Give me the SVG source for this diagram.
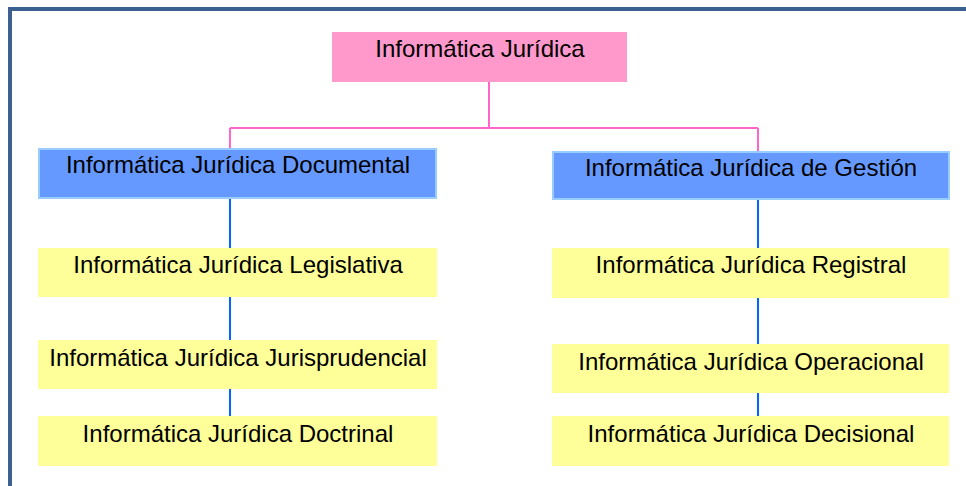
<svg xmlns="http://www.w3.org/2000/svg" width="966" height="486" viewBox="0 0 966 486">
<style>
text{font-family:"Liberation Sans",Arial,sans-serif;font-size:24px;fill:#000;text-anchor:middle}
.y{fill:#FFFF99}
.b{fill:#6699FF;stroke:#99CCFF;stroke-width:2}
.pk{stroke:#FF66CC;stroke-width:2;fill:none}
.bl{stroke:#0066FF;stroke-width:2;fill:none}
</style>
<rect x="0" y="0" width="966" height="486" fill="#fff"/>
<rect x="10" y="9" width="1000" height="1000" fill="none" stroke="#3C6190" stroke-width="4"/>
<g id="connectors">
<path class="pk" d="M489 82V128M230 128H758M230 128V149M758 128V151"/>
<path class="bl" d="M230 198V248M230 297V340M230 389V416M758 199V248M758 298V344M758 393V416"/>
</g>
<g id="root"><rect x="332" y="32" width="295" height="50" fill="#FF99CC"/><text x="480" y="57">Informática Jurídica</text></g>
<g id="documental"><rect class="b" x="39" y="149" width="397" height="49"/><text x="238" y="173">Informática Jurídica Documental</text></g>
<g id="gestion"><rect class="b" x="553" y="152" width="396" height="47"/><text x="751" y="176">Informática Jurídica de Gestión</text></g>
<g id="legislativa"><rect class="y" x="38" y="248" width="399" height="49"/><text x="238" y="273">Informática Jurídica Legislativa</text></g>
<g id="jurisprudencial"><rect class="y" x="38" y="340" width="399" height="49"/><text x="238" y="366">Informática Jurídica Jurisprudencial</text></g>
<g id="doctrinal"><rect class="y" x="38" y="416" width="399" height="50"/><text x="238" y="442">Informática Jurídica Doctrinal</text></g>
<g id="registral"><rect class="y" x="552" y="248" width="397" height="50"/><text x="751" y="273">Informática Jurídica Registral</text></g>
<g id="operacional"><rect class="y" x="552" y="344" width="397" height="49"/><text x="751" y="370">Informática Jurídica Operacional</text></g>
<g id="decisional"><rect class="y" x="552" y="416" width="397" height="50"/><text x="751" y="442">Informática Jurídica Decisional</text></g>
</svg>
